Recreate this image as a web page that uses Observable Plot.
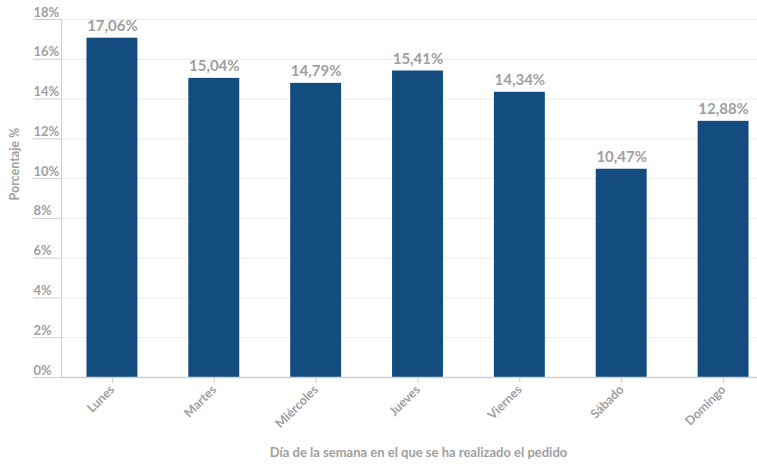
<!DOCTYPE html>
<html><head><meta charset="utf-8">
<script src="https://cdn.jsdelivr.net/npm/d3@7"></script>
<script src="https://cdn.jsdelivr.net/npm/@observablehq/plot@0.6"></script>
<style>body{margin:0;background:#fff}</style>
</head><body><div id="chart"></div>
<script>
const days = ["Lunes","Martes","Miércoles","Jueves","Viernes","Sábado","Domingo"];
const pct = [17.06,15.04,14.79,15.41,14.34,10.47,12.88];
const yTicks = [0,2,4,6,8,10,12,14,16,18];
const xTitle = "Día de la semana en el que se ha realizado el pedido";
const yTitle = "Porcentaje %";

const data = days.map((d,i)=>({day:d, value:pct[i]}));
const fmt = v => v.toFixed(2).replace(".", ",") + "%";
const gray = "#a0a0a0";

const chart = Plot.plot({
  width: 757, height: 466,
  marginLeft: 61, marginRight: 0, marginTop: 19, marginBottom: 89,
  style: {fontFamily: "Lato, sans-serif", fontWeight: "bold", color: gray, background: "#fff"},
  x: {domain: days, range: [61, 774], paddingInner: 0.5, paddingOuter: 0.25, round: false, label: null},
  y: {domain: [0, 18], label: null},
  marks: [
    Plot.ruleY(yTicks.filter(t=>t>0), {stroke: "#ececec"}),
    Plot.axisY({ticks: yTicks, tickSize: 28, tickFormat: () => "", stroke: "#cfcfcf", strokeOpacity: 1, label: null}),
    Plot.text(yTicks, {y: d => d, text: d => d + "%", frameAnchor: "left", dx: -28, dy: -3, lineAnchor: "bottom", textAnchor: "start", fontSize: 13, fill: gray}),
    Plot.frame({anchor: "left", stroke: "#cfcfcf"}),
    Plot.barY(data, {x: "day", y: "value", fill: "#134d80"}),
    Plot.ruleY([0], {stroke: "#cfcfcf", strokeWidth: 1.5}),
    Plot.text(data, {x: "day", y: "value", text: d => fmt(d.value), dy: -12, fontSize: 15, fill: gray}),
    Plot.axisX({tickRotate: -45, tickSize: 6, tickPadding: 4, stroke: "#cfcfcf", fill: gray, fontSize: 12.5, label: null}),
    Plot.text([yTitle], {frameAnchor: "left", y: [8.9], dx: -47, rotate: -90, fontSize: 12.5, fill: gray}),
    Plot.text([xTitle], {frameAnchor: "bottom", dx: 9, dy: 79, fontSize: 13, fill: gray})
  ]
});
document.getElementById("chart").appendChild(chart);
</script></body></html>
